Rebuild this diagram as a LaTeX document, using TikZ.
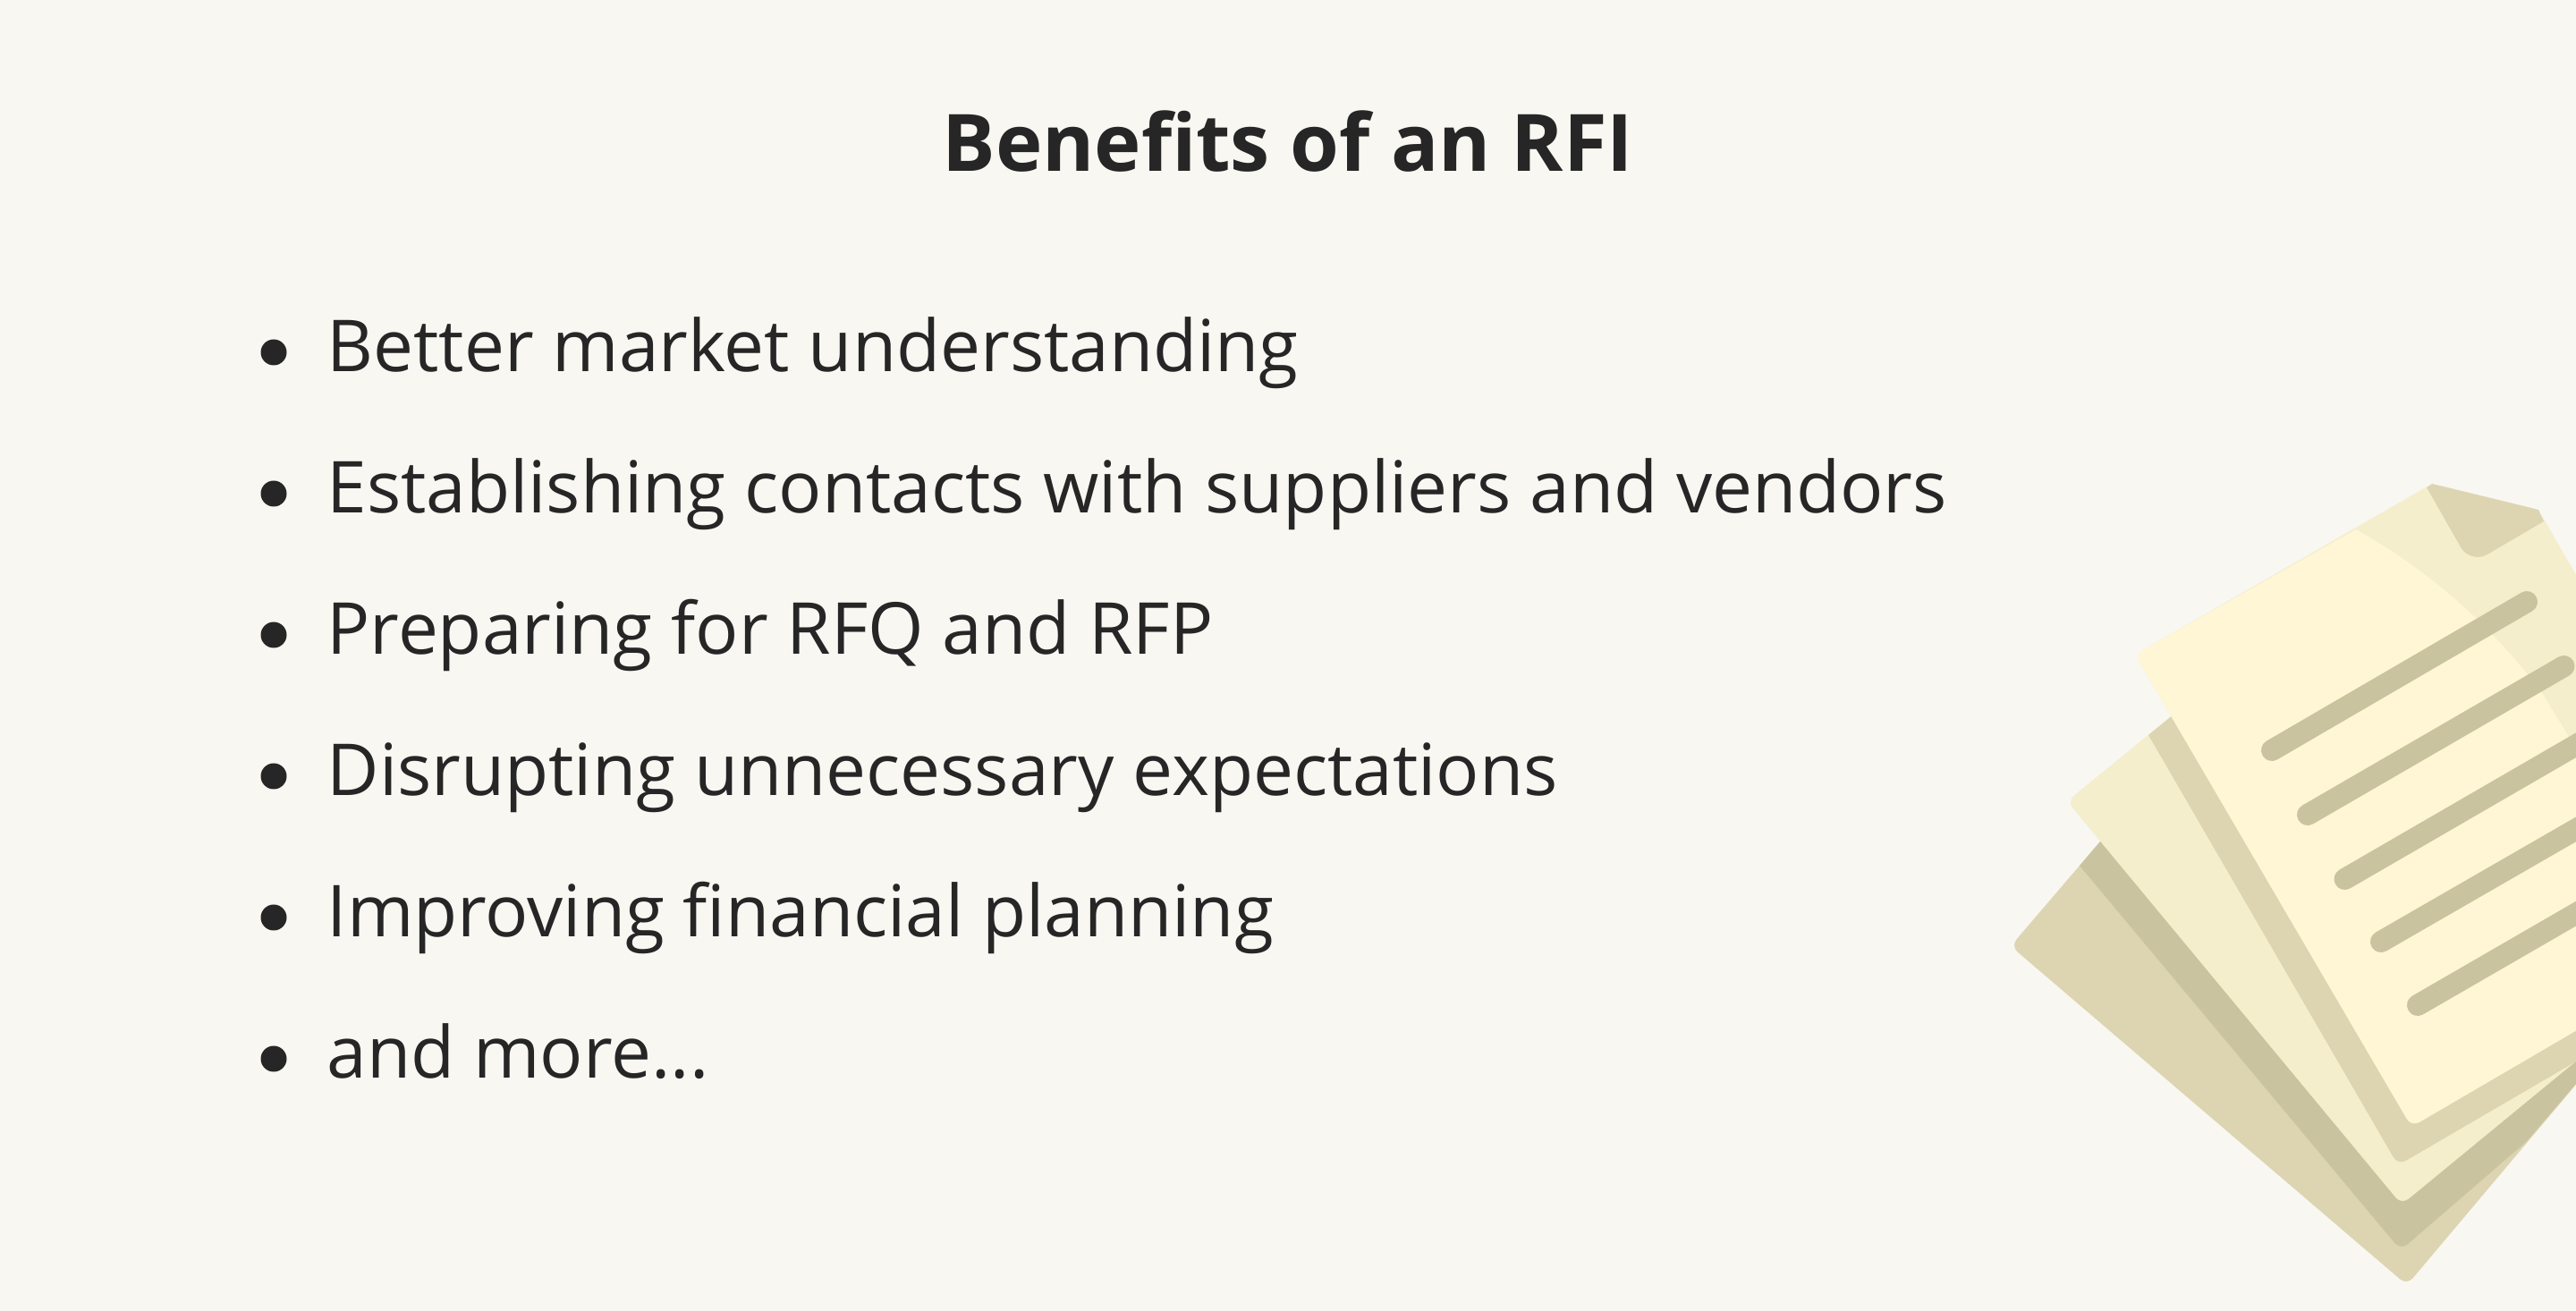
\documentclass[tikz,border=0pt]{standalone}
\usepackage{fontspec}
\setmainfont{Open Sans}
\definecolor{paper}{HTML}{F8F7F2}
\definecolor{ink}{HTML}{262626}
\definecolor{sheetA}{HTML}{FFF6D6}
\definecolor{sheetB}{HTML}{F4EECD}
\definecolor{sheetC}{HTML}{DDD4B1}
\definecolor{sheetD}{HTML}{C9C49F}
\tikzset{
    itemtext/.style = {ink, anchor = base west, inner sep = 0pt, font = \fontsize{22.8}{27}\selectfont},
    itemdot/.style = {circle, fill = ink, inner sep = 0pt, minimum size = 0.29cm},
    docline/.style = {sheetD, line width = 0.24cm, line cap = round},
    corner/.style = {rounded corners = 0.1cm}
}

\begin{document}
\begin{tikzpicture}
        % Umgebung
        \useasboundingbox (0, 0) rectangle (28.8, 14.66);
        \fill[paper] (0, 0) rectangle (28.8, 14.66);
        
        % Überschrift
        \node[ink, inner sep = 0pt, anchor = base, font = \fontsize{25.2}{31}\selectfont\bfseries] (title) at (14.4, 12.74) {Benefits of an RFI};
        
        % Punkte
        \node[itemdot] (dot1) at (3.06, 10.72) {};
        \node[itemdot] (dot2) at (3.06, 9.14) {};
        \node[itemdot] (dot3) at (3.06, 7.56) {};
        \node[itemdot] (dot4) at (3.06, 5.98) {};
        \node[itemdot] (dot5) at (3.06, 4.40) {};
        \node[itemdot] (dot6) at (3.06, 2.82) {};
        
        % Texte
        \node[itemtext] (item1) at (3.65, 10.50) {Better market understanding};
        \node[itemtext] (item2) at (3.65, 8.92) {Establishing contacts with suppliers and vendors};
        \node[itemtext] (item3) at (3.65, 7.34) {Preparing for RFQ and RFP};
        \node[itemtext] (item4) at (3.65, 5.76) {Disrupting unnecessary expectations};
        \node[itemtext] (item5) at (3.65, 4.18) {Improving financial planning};
        \node[itemtext] (item6) at (3.65, 2.60) {and more...};
        
        % Blätter
        \clip (0, 0) rectangle (28.8, 14.66);
        \fill[sheetC, corner] (22.48, 4.08) -- (26.91, 0.29) -- (29.1, 2.89) -- (23.9, 5.74) -- cycle;
        \fill[sheetD] (23.25, 4.98) [rounded corners = 0.1cm] -- (26.84, 0.68) [sharp corners] -- (28.24, 1.89) -- (29.1, 2.89) -- (23.9, 5.74) -- cycle;
        \fill[sheetB, corner] (23.11, 5.70) -- (26.85, 1.19) -- (29.1, 3.04) -- (24.8, 7.08) -- cycle;
        \fill[sheetC] (24.02, 6.44) [rounded corners = 0.1cm] -- (26.81, 1.63) [sharp corners] -- (28.8, 2.79) -- (28.8, 3.5) -- (24.8, 7.08) -- cycle;
        \fill[sheetB, corner] (26.96, 2.06) -- (23.87, 7.34) -- (27.19, 9.25) -- (28.38, 8.96) -- (29.1, 7.71) -- (29.1, 3.31) -- cycle;
        \fill[sheetA] (29.1, 3.31) [rounded corners = 0.1cm] -- (26.96, 2.06) -- (23.87, 7.34) [sharp corners] -- (26.34, 8.74) .. controls (27.2, 8.26) and (27.9, 7.61) .. (28.42, 6.91) -- (29.1, 5.80) -- cycle;
        
        % Ecke
        \fill[sheetC] (27.13, 9.21) -- (27.19, 9.25) -- (28.38, 8.96) -- (28.44, 8.83) [rounded corners = 0.22cm] -- (27.62, 8.35) [sharp corners] -- cycle;
        
        % Linien
        \draw[docline] (25.40, 6.27) -- (28.25, 7.93);
        \draw[docline] (25.80, 5.55) -- (28.665, 7.21);
        \draw[docline] (26.215, 4.83) -- (29.08, 6.49);
        \draw[docline] (26.62, 4.13) -- (29.5, 5.79);
        \draw[docline] (27.03, 3.42) -- (29.9, 5.08);

    \end{tikzpicture}
\end{document}
